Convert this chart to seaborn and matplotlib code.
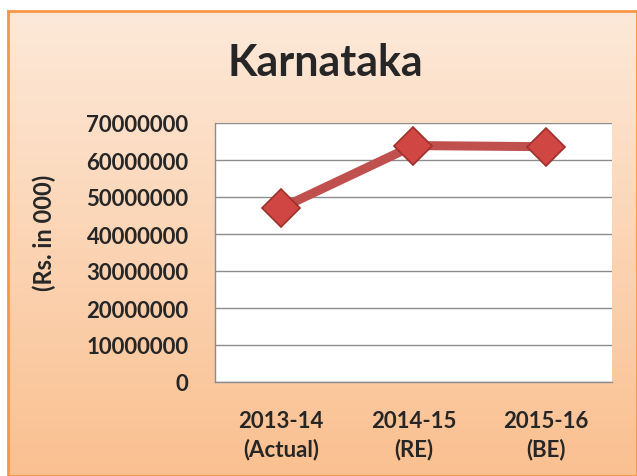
import numpy as np
import pandas as pd
import matplotlib.pyplot as plt
import seaborn as sns
from matplotlib.ticker import FuncFormatter, FixedLocator

# Données du graphique
years = ["2013-14\n(Actual)", "2014-15\n(RE)", "2015-16\n(BE)"]
values = [47000000, 63900000, 63600000]
y_ticks = [0, 10000000, 20000000, 30000000, 40000000, 50000000, 60000000, 70000000]

df = pd.DataFrame({"Year": years, "Amount": values})

sns.set_style("white")
plt.rcParams['font.family'] = ['Lato', 'DejaVu Sans']
plt.rcParams['font.weight'] = 'bold'

fig = plt.figure(figsize=(6.37, 4.77), dpi=100)
fig.patch.set_facecolor("white")

# Fond dégradé orange (cadre du graphique)
bg = fig.add_axes([8 / 637, 0, 629 / 637, 465 / 477])
grad = np.linspace(0, 1, 256).reshape(-1, 1)
top = np.array([253, 233, 217]) / 255
bottom = np.array([250, 192, 144]) / 255
img = top + (bottom - top) * grad[:, :, None]
bg.imshow(img, aspect="auto", extent=[0, 1, 0, 1], origin="upper")
bg.set_xlim(0, 1)
bg.set_ylim(0, 1)
bg.set_xticks([])
bg.set_yticks([])
for s in bg.spines.values():
    s.set_color("#F79646")
    s.set_linewidth(2)
bg.set_zorder(0)

ax = fig.add_axes([215 / 637, 1 - 383 / 477, 397 / 637, 259 / 477])
ax.set_zorder(1)
ax.set_facecolor("white")

sns.lineplot(data=df, x="Year", y="Amount", ax=ax, color="#C0504D",
             linewidth=6.5, marker="D", markersize=19,
             markerfacecolor="#CF4642", markeredgecolor="#9E302C",
             markeredgewidth=1.2, sort=False)

ax.set_xlim(-0.5, 2.5)
ax.set_ylim(0, 70000000)
ax.set_yticks(y_ticks)
ax.yaxis.set_major_formatter(FuncFormatter(lambda v, p: f"{int(v)}"))
ax.grid(axis="y", color="#8C8C8C", linewidth=1)
ax.set_axisbelow(True)

# Graduations entre les catégories
ax.xaxis.set_minor_locator(FixedLocator([-0.5, 0.5, 1.5, 2.5]))
ax.tick_params(axis="x", which="major", length=0, pad=20, labelsize=16)
ax.tick_params(axis="x", which="minor", length=7, color="#8C8C8C", width=1, direction="out")
ax.tick_params(axis="y", length=7, color="#8C8C8C", width=1, direction="out", pad=12, labelsize=16)
for lbl in ax.get_xticklabels():
    lbl.set_linespacing(1.4)
    lbl.set_fontweight("bold")
for lbl in ax.get_yticklabels():
    lbl.set_fontweight("bold")

for side in ["top", "right"]:
    ax.spines[side].set_visible(False)
for side in ["left", "bottom"]:
    ax.spines[side].set_color("#8C8C8C")
    ax.spines[side].set_linewidth(1)

ax.set_xlabel("")
ax.set_ylabel("(Rs. in 000)", fontsize=17, fontweight="bold")
ax.yaxis.set_label_coords(-0.40, 0.58)

fig.text(325 / 637, 1 - 63 / 477, "Karnataka", ha="center", va="center",
         fontsize=31, fontweight="bold")

fig.savefig("out.png", dpi=100)
